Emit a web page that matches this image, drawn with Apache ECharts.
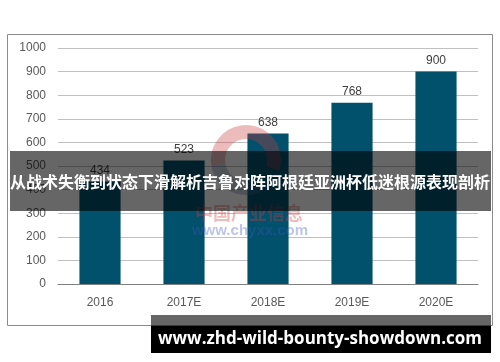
<!DOCTYPE html>
<html>
<head>
<meta charset="utf-8">
<script src="https://cdn.jsdelivr.net/npm/echarts@6/dist/echarts.min.js"></script>
<style>html,body{margin:0;padding:0;background:#fff}#c{width:500px;height:362px}</style>
</head>
<body>
<div id="c"></div>
<script>
const categories = ['2016', '2017E', '2018E', '2019E', '2020E'];
const values = [434, 523, 638, 768, 900];
const yTicks = [0, 100, 200, 300, 400, 500, 600, 700, 800, 900, 1000];
const bannerText = '从战术失衡到状态下滑解析吉鲁对阵阿根廷亚洲杯低迷根源表现剖析';
const footerText = 'www.zhd-wild-bounty-showdown.com';
const watermarkCn = '中国产业信息';
const watermarkUrl = 'www.chyxx.com';

const chart = echarts.init(document.getElementById('c'), null, {renderer: 'canvas'});
chart.setOption({
  animation: false,
  backgroundColor: '#ffffff',
  grid: {left: 58, right: 22, top: 48, bottom: 78, containLabel: false},
  xAxis: {
    type: 'category',
    data: categories,
    axisLine: {lineStyle: {color: '#808080', width: 1}},
    axisTick: {show: false},
    axisLabel: {color: '#595959', fontSize: 12, fontFamily: 'Liberation Sans', margin: 13}
  },
  yAxis: {
    type: 'value',
    min: yTicks[0],
    max: yTicks[yTicks.length - 1],
    interval: 100,
    axisLine: {show: false},
    axisTick: {show: false},
    axisLabel: {color: '#595959', fontSize: 12, fontFamily: 'Liberation Sans', margin: 12, formatter: v => String(v)},
    splitLine: {lineStyle: {color: '#c0c0c0', width: 1}}
  },
  series: [{
    type: 'bar',
    data: values,
    barWidth: '49%',
    itemStyle: {color: '#01516d'},
    label: {show: true, position: 'top', distance: 5, color: '#404040', fontSize: 12, fontFamily: 'Liberation Sans'},
    z: 2
  }],
  graphic: [
    {type: 'rect', shape: {x: 7.5, y: 34.5, width: 485, height: 291}, style: {fill: 'none', stroke: '#8c8c8c', lineWidth: 1}, z: 1, silent: true},
    {type: 'arc', shape: {cx: 246, cy: 160, r: 28, startAngle: Math.PI * 0.95, endAngle: Math.PI * 2.1}, style: {fill: 'none', stroke: 'rgba(200,60,60,0.35)', lineWidth: 14}, z: 50, silent: true},
    {type: 'arc', shape: {cx: 246, cy: 160, r: 28, startAngle: Math.PI * 0.35, endAngle: Math.PI * 0.95}, style: {fill: 'none', stroke: 'rgba(90,110,150,0.35)', lineWidth: 14}, z: 50, silent: true},
    {type: 'text', style: {x: 249, y: 213, text: watermarkCn, fill: 'rgba(210,60,60,0.35)', font: 'bold 18px "Noto Sans CJK SC"', textAlign: 'center', textVerticalAlign: 'middle'}, z: 52, silent: true},
    {type: 'text', style: {x: 250, y: 231, text: watermarkUrl, fill: 'rgba(60,90,190,0.35)', font: 'bold 15px "Liberation Sans"', textAlign: 'center', textVerticalAlign: 'middle'}, z: 52, silent: true},
    {type: 'rect', shape: {x: 10, y: 151, width: 481, height: 60}, style: {fill: 'rgba(0,0,0,0.6)'}, z: 100, silent: true},
    {type: 'text', style: {x: 10, y: 182, text: bannerText, fill: '#ffffff', font: 'bold 16px "Noto Sans CJK SC"', textAlign: 'left', textVerticalAlign: 'middle'}, z: 101, silent: true},
    {type: 'rect', shape: {x: 151, y: 315, width: 340, height: 11}, style: {fill: 'rgba(0,0,0,0.6)'}, z: 100, silent: true},
    {type: 'rect', shape: {x: 151, y: 326, width: 340, height: 27}, style: {fill: '#000000'}, z: 100, silent: true},
    {type: 'text', style: {x: 320, y: 339, text: footerText, fill: '#ffffff', font: 'bold 17px "Open Sans"', textAlign: 'center', textVerticalAlign: 'middle'}, z: 101, silent: true}
  ]
});
</script>
</body>
</html>
